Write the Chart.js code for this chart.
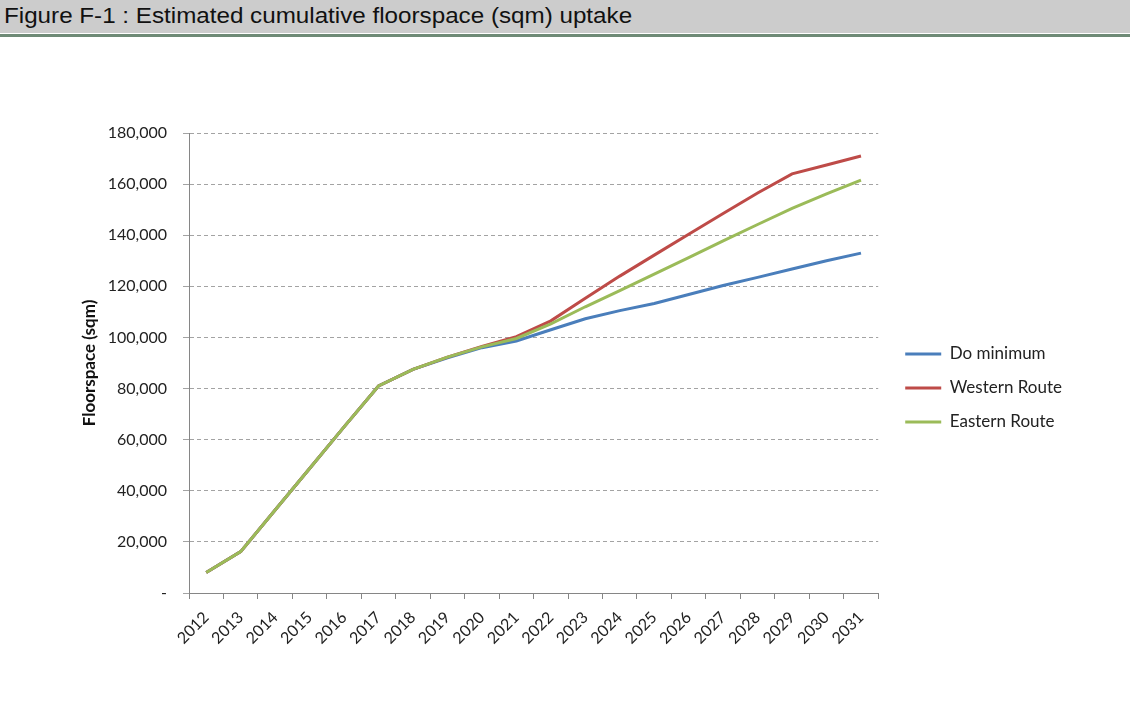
<!DOCTYPE html>
<html>
<head>
<meta charset="utf-8">
<script src="https://cdn.jsdelivr.net/npm/chart.js@4.4.1/dist/chart.umd.min.js"></script>
<style>
  body { margin: 0; background: #fff; width: 1130px; height: 721px; overflow: hidden; position: relative; }
  .fig-head {
    position: absolute; left: 0; top: 0; width: 1130px; height: 33px;
    background: #cccccc; border-bottom: 1px solid #fff;
  }
  .fig-head span {
    position: absolute; left: 4px; top: 3px;
    font-family: "Liberation Sans", Arial, sans-serif; font-size: 22px; color: #111;
    transform: scaleX(1.1); transform-origin: 0 0; white-space: nowrap;
  }
  .fig-rule { position: absolute; left: 0; top: 34px; width: 1130px; height: 3px; background: #6e8a76; }
  #floorChart { position: absolute; left: 0; top: 37px; }
</style>
</head>
<body>
<div class="fig-head"><span>Figure F-1 : Estimated cumulative floorspace (sqm) uptake</span></div>
<div class="fig-rule"></div>
<canvas id="floorChart" width="1130" height="684"></canvas>
<script>
// cumulative floorspace, sqm
var years = ['2012','2013','2014','2015','2016','2017','2018','2019','2020','2021',
             '2022','2023','2024','2025','2026','2027','2028','2029','2030','2031'];
var doMinimum = [8000,16200,32500,48700,65000,81000,87500,92000,96000,98600,
                 103000,107300,110500,113300,116800,120300,123500,126800,130000,133000];
var westernRoute = [8000,16200,32500,48700,65000,81000,87500,92300,96500,100300,
                    106500,115300,124000,132200,140400,148500,156500,164000,167500,171000];
var easternRoute = [8000,16200,32500,48700,65000,81000,87500,92300,96300,99600,
                    105300,112000,118300,124800,131200,137800,144200,150500,156200,161600];
var yTicks = [0,20000,40000,60000,80000,100000,120000,140000,160000,180000];

var axisGrey = '#868686';

var data = {
  labels: years,
  datasets: [
    { label: 'Do minimum', data: doMinimum, borderColor: '#4a7ebb', order: 3 },
    { label: 'Western Route', data: westernRoute, borderColor: '#be4b48', order: 2 },
    { label: 'Eastern Route', data: easternRoute, borderColor: '#9bbb59', order: 1 }
  ]
};
data.datasets.forEach(function(ds) {
  ds.backgroundColor = ds.borderColor;
  ds.borderWidth = 3;
  ds.pointRadius = 0;
  ds.tension = 0;
  ds.fill = false;
});

// push the legend a little away from the plot, like the Excel original
var legendNudge = {
  id: 'legendNudge',
  afterLayout: function(chart) {
    var lg = chart.legend;
    lg.left += 10; lg.right += 10;
    lg.top -= 5; lg.bottom -= 5;
  }
};

var options = {
  responsive: false,
  animation: false,
  layout: { padding: { left: 79, top: 96, right: 68, bottom: 68 } },
  scales: {
    x: {
      type: 'category',
      offset: true,
      grid: { offset: true, drawOnChartArea: false, drawTicks: true, tickLength: 6, color: axisGrey },
      border: { color: axisGrey, width: 1 },
      ticks: {
        autoSkip: false, minRotation: 45, maxRotation: 45, padding: 9,
        color: '#222', font: { family: 'Lato', size: 16 }
      },
      afterFit: function(scale) { scale.height = 60; }
    },
    y: {
      min: 0,
      max: 180000,
      afterBuildTicks: function(scale) {
        scale.ticks = yTicks.map(function(v) { return { value: v }; });
      },
      grid: { color: '#a3a3a3', tickLength: 6, drawTicks: true },
      border: { color: axisGrey, width: 1, dash: [4, 3] },
      ticks: {
        padding: 16, color: '#222', font: { family: 'Lato', size: 16 },
        callback: function(value) {
          return value === 0 ? '-' : value.toLocaleString('en-US');
        }
      },
      title: {
        display: true, text: 'Floorspace (sqm)', color: '#111',
        font: { family: 'Lato', size: 17, weight: 'bold' }, padding: 0
      },
      afterFit: function(scale) { scale.width = 110; }
    }
  },
  plugins: {
    tooltip: { enabled: false },
    legend: {
      display: true,
      position: 'right',
      labels: {
        usePointStyle: true,
        pointStyle: 'line',
        pointStyleWidth: 36,
        padding: 17,
        color: '#222',
        font: { family: 'Lato', size: 17 },
        sort: function(a, b) { return a.datasetIndex - b.datasetIndex; }
      }
    }
  }
};

var ctx = document.getElementById('floorChart').getContext('2d');
var floorChart = new Chart(ctx, {
  type: 'line',
  data: data,
  options: options,
  plugins: [legendNudge]
});
</script>
</body>
</html>
